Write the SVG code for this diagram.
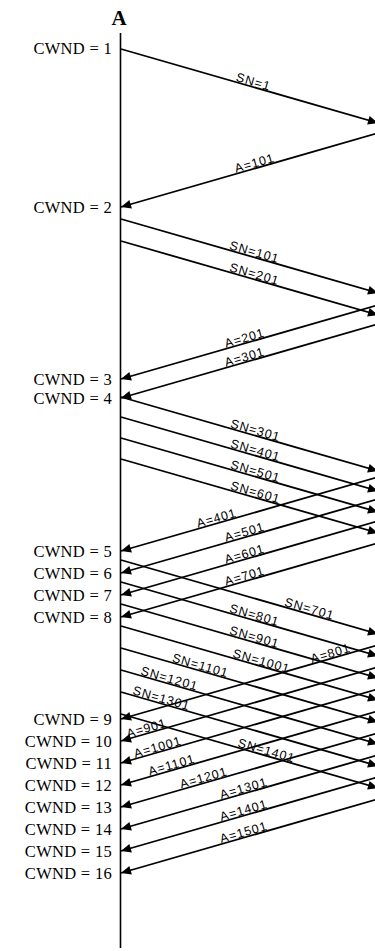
<svg xmlns="http://www.w3.org/2000/svg" width="375" height="951" viewBox="0 0 375 951">
<defs>
<marker id="ah" markerUnits="userSpaceOnUse" markerWidth="12" markerHeight="10" viewBox="-11 -5 12 10" refX="0" refY="0" orient="auto">
<path d="M0,0 L-10,-4.5 L-10,4.5 z" fill="#000"/>
</marker>
<style>
.ln{stroke:#000;stroke-width:1.8;fill:none;marker-end:url(#ah)}
.lbl{font-family:"Liberation Sans",Arial,sans-serif;font-size:12.5px;letter-spacing:0.9px;text-anchor:middle;fill:#000}
.cw{font-family:"Liberation Serif","Times New Roman",serif;font-size:16.5px;letter-spacing:0.3px;text-anchor:end;fill:#000}
</style>
</defs>
<rect width="375" height="951" fill="#fff"/>
<g id="nodeA">
<line x1="120.5" y1="33" x2="120.5" y2="948" stroke="#000" stroke-width="1.6"/>
<text x="119" y="25" text-anchor="middle" font-family="Liberation Serif,serif" font-weight="bold" font-size="21">A</text>
</g>
<g id="cwnd-labels">
<text class="cw" x="112" y="54">CWND = 1</text>
<text class="cw" x="112" y="212.5">CWND = 2</text>
<text class="cw" x="112" y="384.5">CWND = 3</text>
<text class="cw" x="112" y="403.5">CWND = 4</text>
<text class="cw" x="112" y="556.5">CWND = 5</text>
<text class="cw" x="112" y="578.5">CWND = 6</text>
<text class="cw" x="112" y="600.5">CWND = 7</text>
<text class="cw" x="112" y="622.5">CWND = 8</text>
<text class="cw" x="112" y="724.5">CWND = 9</text>
<text class="cw" x="112" y="746.5">CWND = 10</text>
<text class="cw" x="112" y="768.5">CWND = 11</text>
<text class="cw" x="112" y="790.5">CWND = 12</text>
<text class="cw" x="112" y="812.5">CWND = 13</text>
<text class="cw" x="112" y="834.5">CWND = 14</text>
<text class="cw" x="112" y="856.5">CWND = 15</text>
<text class="cw" x="112" y="878.5">CWND = 16</text>
</g>
<g id="connectors">
<!-- data segments -->
<g><line class="ln" x1="121" y1="49" x2="378" y2="123"/><text class="lbl" transform="translate(252,86.7) rotate(16.06)" y="-1">SN=1</text></g>
<g><line class="ln" x1="121" y1="219" x2="378" y2="293"/><text class="lbl" transform="translate(253,257) rotate(16.06)" y="-1">SN=101</text></g>
<g><line class="ln" x1="121" y1="241" x2="378" y2="315"/><text class="lbl" transform="translate(253,279) rotate(16.06)" y="-1">SN=201</text></g>
<g><line class="ln" x1="121" y1="397" x2="378" y2="471"/><text class="lbl" transform="translate(254,435.3) rotate(16.06)" y="-1">SN=301</text></g>
<g><line class="ln" x1="121" y1="417" x2="378" y2="491"/><text class="lbl" transform="translate(254,455.3) rotate(16.06)" y="-1">SN=401</text></g>
<g><line class="ln" x1="121" y1="438" x2="378" y2="512"/><text class="lbl" transform="translate(254,476.3) rotate(16.06)" y="-1">SN=501</text></g>
<g><line class="ln" x1="121" y1="459" x2="378" y2="533"/><text class="lbl" transform="translate(254,497.3) rotate(16.06)" y="-1">SN=601</text></g>
<g><line class="ln" x1="121" y1="560" x2="378" y2="634"/><text class="lbl" transform="translate(308,613.8) rotate(16.06)" y="-1">SN=701</text></g>
<g><line class="ln" x1="121" y1="582" x2="378" y2="656"/><text class="lbl" transform="translate(253,620) rotate(16.06)" y="-1">SN=801</text></g>
<g><line class="ln" x1="121" y1="604" x2="378" y2="678"/><text class="lbl" transform="translate(253,642) rotate(16.06)" y="-1">SN=901</text></g>
<g><line class="ln" x1="121" y1="626" x2="378" y2="700"/><text class="lbl" transform="translate(260,666) rotate(16.06)" y="-1">SN=1001</text></g>
<g><line class="ln" x1="121" y1="648" x2="378" y2="722"/><text class="lbl" transform="translate(199,670.5) rotate(16.06)" y="-1">SN=1101</text></g>
<g><line class="ln" x1="121" y1="670" x2="378" y2="744"/><text class="lbl" transform="translate(168,683.5) rotate(16.06)" y="-1">SN=1201</text></g>
<g><line class="ln" x1="121" y1="692" x2="378" y2="766"/><text class="lbl" transform="translate(160,703.2) rotate(16.06)" y="-1">SN=1301</text></g>
<g><line class="ln" x1="121" y1="714" x2="378" y2="788"/><text class="lbl" transform="translate(265,755.5) rotate(16.06)" y="-1">SN=1401</text></g>
<!-- acknowledgements -->
<g><line class="ln" x1="378" y1="133" x2="121" y2="207"/><text class="lbl" transform="translate(256,168.1) rotate(-16.06)" y="-1">A=101</text></g>
<g><line class="ln" x1="378" y1="305" x2="121" y2="379"/><text class="lbl" transform="translate(246,343) rotate(-16.06)" y="-1">A=201</text></g>
<g><line class="ln" x1="378" y1="324" x2="121" y2="398"/><text class="lbl" transform="translate(246,362) rotate(-16.06)" y="-1">A=301</text></g>
<g><line class="ln" x1="378" y1="477" x2="121" y2="551"/><text class="lbl" transform="translate(218,523.1) rotate(-16.06)" y="-1">A=401</text></g>
<g><line class="ln" x1="378" y1="499" x2="121" y2="573"/><text class="lbl" transform="translate(246,537) rotate(-16.06)" y="-1">A=501</text></g>
<g><line class="ln" x1="378" y1="521" x2="121" y2="595"/><text class="lbl" transform="translate(246,559) rotate(-16.06)" y="-1">A=601</text></g>
<g><line class="ln" x1="378" y1="543" x2="121" y2="617"/><text class="lbl" transform="translate(246,581) rotate(-16.06)" y="-1">A=701</text></g>
<g><line class="ln" x1="378" y1="645" x2="121" y2="719"/><text class="lbl" transform="translate(332,658.3) rotate(-16.06)" y="-1">A=801</text></g>
<g><line class="ln" x1="378" y1="667" x2="121" y2="741"/><text class="lbl" transform="translate(148,733.2) rotate(-16.06)" y="-1">A=901</text></g>
<g><line class="ln" x1="378" y1="689" x2="121" y2="763"/><text class="lbl" transform="translate(159,752.1) rotate(-16.06)" y="-1">A=1001</text></g>
<g><line class="ln" x1="378" y1="711" x2="121" y2="785"/><text class="lbl" transform="translate(173,770) rotate(-16.06)" y="-1">A=1101</text></g>
<g><line class="ln" x1="378" y1="733" x2="121" y2="807"/><text class="lbl" transform="translate(205,782.8) rotate(-16.06)" y="-1">A=1201</text></g>
<g><line class="ln" x1="378" y1="755" x2="121" y2="829"/><text class="lbl" transform="translate(245,793.3) rotate(-16.06)" y="-1">A=1301</text></g>
<g><line class="ln" x1="378" y1="777" x2="121" y2="851"/><text class="lbl" transform="translate(245,815.3) rotate(-16.06)" y="-1">A=1401</text></g>
<g><line class="ln" x1="378" y1="799" x2="121" y2="873"/><text class="lbl" transform="translate(245,837.3) rotate(-16.06)" y="-1">A=1501</text></g>
</g>
</svg>
